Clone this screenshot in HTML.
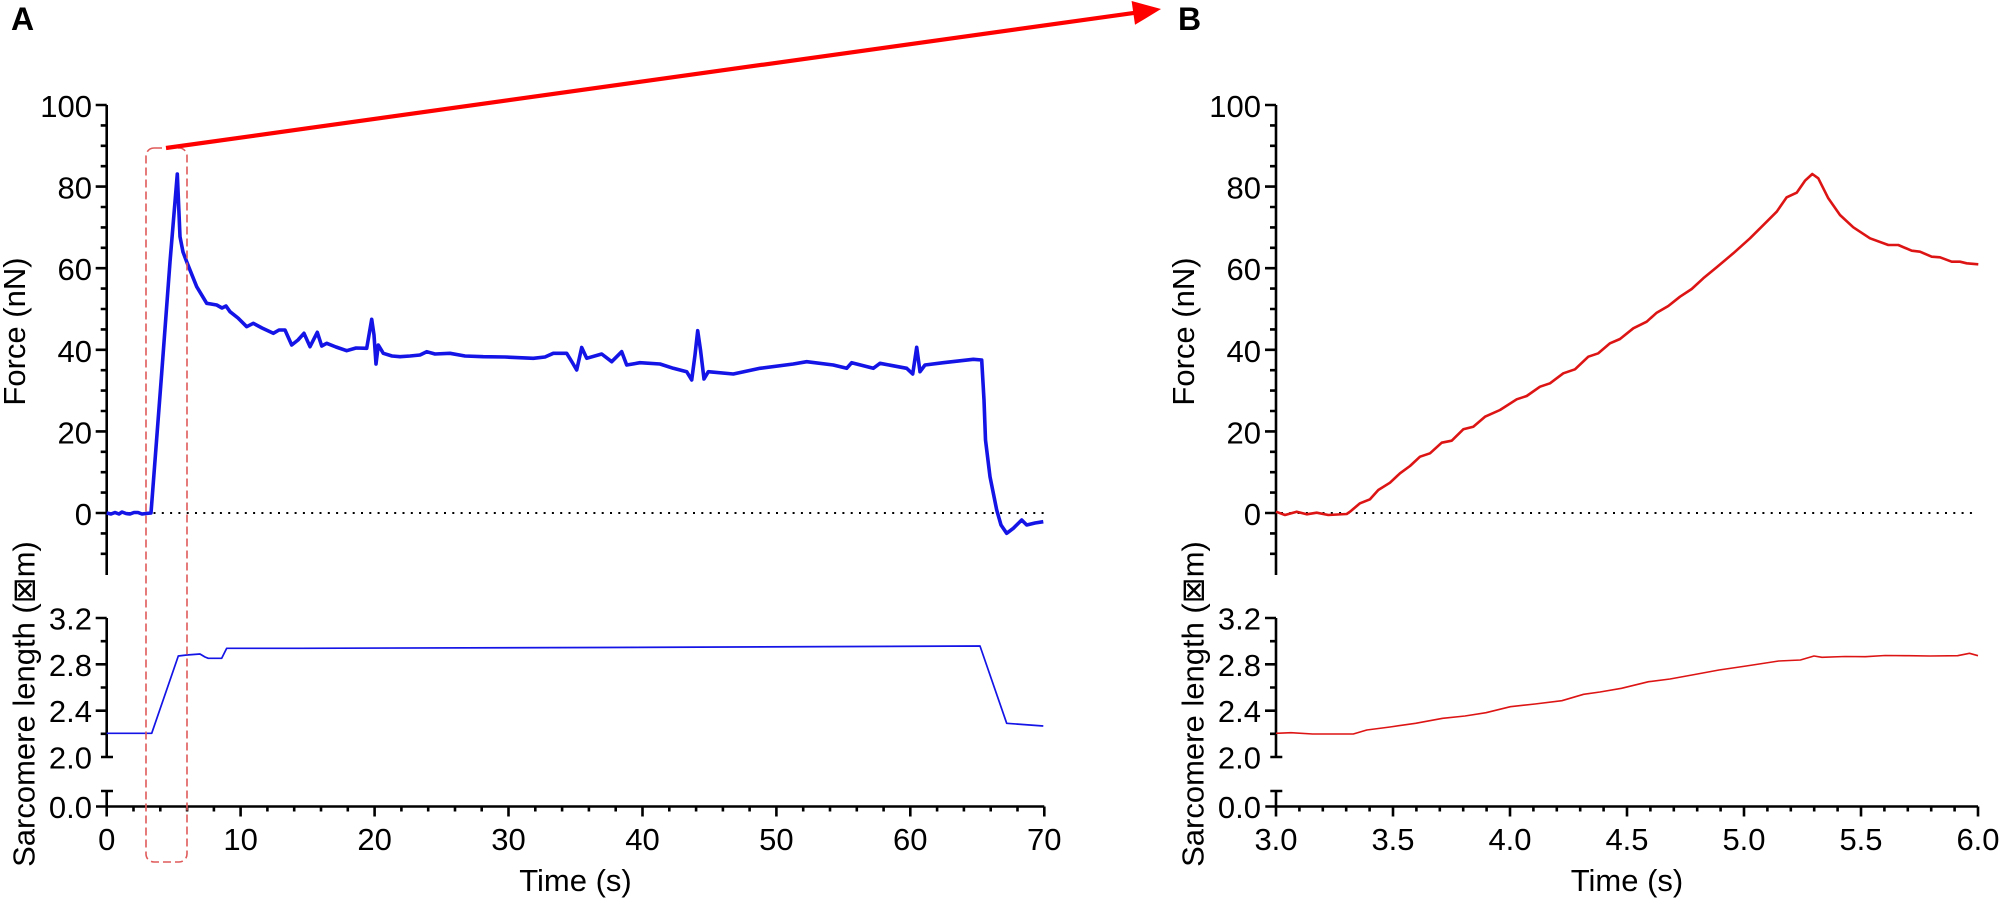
<!DOCTYPE html>
<html><head><meta charset="utf-8"><style>
html,body{margin:0;padding:0;background:#fff;}
svg{display:block;}
text{font-family:"Liberation Sans","DejaVu Sans",sans-serif;fill:#000;}
</style></head><body>
<svg width="2000" height="901" viewBox="0 0 2000 901" xmlns="http://www.w3.org/2000/svg">
<rect width="2000" height="901" fill="#fff"/>

<!-- Panel labels -->
<text x="11" y="30" font-size="32" font-weight="bold">A</text>
<text x="1178" y="30" font-size="32" font-weight="bold">B</text>

<!-- ============ LEFT PANEL AXES ============ -->
<g stroke="#000" stroke-width="2.6" fill="none">
  <path d="M106.7 105 V575"/>
  <path d="M106.7 513 h-11 M106.7 431.4 h-11 M106.7 349.8 h-11 M106.7 268.2 h-11 M106.7 186.6 h-11 M106.7 105 h-11"/>
  <path d="M106.7 492.6 h-6 M106.7 472.2 h-6 M106.7 451.8 h-6 M106.7 411 h-6 M106.7 390.6 h-6 M106.7 370.2 h-6 M106.7 329.4 h-6 M106.7 309 h-6 M106.7 288.6 h-6 M106.7 247.8 h-6 M106.7 227.4 h-6 M106.7 207 h-6 M106.7 166.2 h-6 M106.7 145.8 h-6 M106.7 125.4 h-6 M106.7 533.4 h-6 M106.7 553.8 h-6"/>
  <path d="M106.7 618 V757"/>
  <path d="M106.7 618 h-11 M106.7 664.3 h-11 M106.7 710.7 h-11 M101 757 h12"/>
  <path d="M106.7 641.2 h-6 M106.7 687.5 h-6 M106.7 733.8 h-6"/>
  <path d="M106.7 791 V806.5 M101 791 h12"/>
  <path d="M96 806.5 H1044.3"/>
  <path d="M106.7 806.5 v10 M240.6 806.5 v10 M374.6 806.5 v10 M508.5 806.5 v10 M642.5 806.5 v10 M776.4 806.5 v10 M910.3 806.5 v10 M1044.3 806.5 v10"/>
  <path d="M133.5 806.5 v5 M160.3 806.5 v5 M187.1 806.5 v5 M213.9 806.5 v5 M267.4 806.5 v5 M294.2 806.5 v5 M321 806.5 v5 M347.8 806.5 v5 M401.4 806.5 v5 M428.2 806.5 v5 M455 806.5 v5 M481.7 806.5 v5 M535.3 806.5 v5 M562.1 806.5 v5 M588.9 806.5 v5 M615.7 806.5 v5 M669.3 806.5 v5 M696.1 806.5 v5 M722.9 806.5 v5 M749.6 806.5 v5 M803.2 806.5 v5 M830 806.5 v5 M856.8 806.5 v5 M883.6 806.5 v5 M937.1 806.5 v5 M963.9 806.5 v5 M990.7 806.5 v5 M1017.5 806.5 v5"/>
</g>
<path d="M112 513 H1044" stroke="#000" stroke-width="2" stroke-dasharray="2 6.3" fill="none"/>

<g font-size="31" text-anchor="end">
  <text x="92" y="117">100</text>
  <text x="92" y="198.6">80</text>
  <text x="92" y="280.2">60</text>
  <text x="92" y="361.8">40</text>
  <text x="92" y="443.4">20</text>
  <text x="92" y="525">0</text>
  <text x="92" y="629.5">3.2</text>
  <text x="92" y="675.8">2.8</text>
  <text x="92" y="722.2">2.4</text>
  <text x="92" y="768.5">2.0</text>
  <text x="92" y="818">0.0</text>
</g>
<g font-size="31" text-anchor="middle">
  <text x="106.7" y="850">0</text>
  <text x="240.6" y="850">10</text>
  <text x="374.6" y="850">20</text>
  <text x="508.5" y="850">30</text>
  <text x="642.5" y="850">40</text>
  <text x="776.4" y="850">50</text>
  <text x="910.3" y="850">60</text>
  <text x="1044.3" y="850">70</text>
  <text x="575.5" y="891">Time (s)</text>
</g>
<text font-size="31" text-anchor="middle" transform="translate(25,331.5) rotate(-90)">Force (nN)</text>
<text font-size="31" text-anchor="middle" transform="translate(34.5,704) rotate(-90)">Sarcomere length (⊠m)</text>

<!-- ============ RIGHT PANEL AXES ============ -->
<g stroke="#000" stroke-width="2.6" fill="none">
  <path d="M1276 105 V575"/>
  <path d="M1276 513 h-11 M1276 431.4 h-11 M1276 349.8 h-11 M1276 268.2 h-11 M1276 186.6 h-11 M1276 105 h-11"/>
  <path d="M1276 492.6 h-6 M1276 472.2 h-6 M1276 451.8 h-6 M1276 411 h-6 M1276 390.6 h-6 M1276 370.2 h-6 M1276 329.4 h-6 M1276 309 h-6 M1276 288.6 h-6 M1276 247.8 h-6 M1276 227.4 h-6 M1276 207 h-6 M1276 166.2 h-6 M1276 145.8 h-6 M1276 125.4 h-6 M1276 533.4 h-6 M1276 553.8 h-6"/>
  <path d="M1276 618 V757"/>
  <path d="M1276 618 h-11 M1276 664.3 h-11 M1276 710.7 h-11 M1270.3 757 h12"/>
  <path d="M1276 641.2 h-6 M1276 687.5 h-6 M1276 733.8 h-6"/>
  <path d="M1276 791 V806.5 M1270.3 791 h12"/>
  <path d="M1265.3 806.5 H1978"/>
  <path d="M1276 806.5 v10 M1393 806.5 v10 M1510 806.5 v10 M1627 806.5 v10 M1744 806.5 v10 M1861 806.5 v10 M1978 806.5 v10"/>
  <path d="M1299.4 806.5 v5 M1322.8 806.5 v5 M1346.2 806.5 v5 M1369.6 806.5 v5 M1416.4 806.5 v5 M1439.8 806.5 v5 M1463.2 806.5 v5 M1486.6 806.5 v5 M1533.4 806.5 v5 M1556.8 806.5 v5 M1580.2 806.5 v5 M1603.6 806.5 v5 M1650.4 806.5 v5 M1673.8 806.5 v5 M1697.2 806.5 v5 M1720.6 806.5 v5 M1767.4 806.5 v5 M1790.8 806.5 v5 M1814.2 806.5 v5 M1837.6 806.5 v5 M1884.4 806.5 v5 M1907.8 806.5 v5 M1931.2 806.5 v5 M1954.6 806.5 v5"/>
</g>
<path d="M1281 513 H1978" stroke="#000" stroke-width="2" stroke-dasharray="2 6.3" fill="none"/>

<g font-size="31" text-anchor="end">
  <text x="1261" y="117">100</text>
  <text x="1261" y="198.6">80</text>
  <text x="1261" y="280.2">60</text>
  <text x="1261" y="361.8">40</text>
  <text x="1261" y="443.4">20</text>
  <text x="1261" y="525">0</text>
  <text x="1261" y="629.5">3.2</text>
  <text x="1261" y="675.8">2.8</text>
  <text x="1261" y="722.2">2.4</text>
  <text x="1261" y="768.5">2.0</text>
  <text x="1261" y="818">0.0</text>
</g>
<g font-size="31" text-anchor="middle">
  <text x="1276" y="850">3.0</text>
  <text x="1393" y="850">3.5</text>
  <text x="1510" y="850">4.0</text>
  <text x="1627" y="850">4.5</text>
  <text x="1744" y="850">5.0</text>
  <text x="1861" y="850">5.5</text>
  <text x="1978" y="850">6.0</text>
  <text x="1627" y="891">Time (s)</text>
</g>
<text font-size="31" text-anchor="middle" transform="translate(1194,331.5) rotate(-90)">Force (nN)</text>
<text font-size="31" text-anchor="middle" transform="translate(1203.5,704) rotate(-90)">Sarcomere length (⊠m)</text>

<!-- ============ LEFT DATA ============ -->
<polyline fill="none" stroke="#1414e6" stroke-width="3.6" stroke-linejoin="round" points="106.7,513 111,514 115,512.5 119,514 122,512 126,513.5 130,514 134,512.5 138,512.5 142,514 146,513.5 151,513 161.7,373 170,262 177.3,174 180,236.7 183,252 187.3,263.3 196.7,286.7 206.7,303.3 211,304 216.7,305 222,308 226,306 230,311.7 238,318 246.7,326.7 253.3,323.3 262,328 273.3,333.3 279,330 285,330 291.7,345 298,340 304,333.3 310,346.7 317.3,332.3 321.7,346 326.7,343.3 336,347 346.7,350.7 356,348 366.7,348.3 371.7,319.3 374,335 376,364 378.3,345 383.3,353.3 392,356 400,356.7 410,356 420,355 426.7,351.7 435,354 450,353.3 465,356 483.3,356.7 505,357 533.3,358.3 545,357 553.3,353.3 566.7,353.3 572,362 576.7,370 581.7,347.5 586.7,358.3 601.7,354 611.7,361.7 621.7,351.7 626.7,365 640,362.7 660,364 673.3,368.3 686.7,371.7 691.7,380 695,355 697.7,330.7 700.5,350 704,379 708.3,371.7 733.3,374 760,368.3 793.3,364 806.7,361.7 833.3,365 846.7,368.3 851.7,362.7 873.3,368.3 880,363.3 906.7,368.3 912.7,374 916.7,347.3 920,371.7 925,365 943.3,362.7 973.3,359.3 981.7,360 984,400 985.5,440 990,476.7 996.7,510 1001,525 1006.7,533.3 1013.3,528.3 1021.7,520 1026.7,525 1035,523 1043.3,521.7"/>
<polyline fill="none" stroke="#1414e6" stroke-width="1.7" stroke-linejoin="round" points="106.7,733.3 151.7,733.3 178.3,656 186.7,655 200,654 205,657 208.3,658.3 221.7,658.3 226.7,648.3 300,648.3 600,647.5 980,646 1006.7,723.3 1043.3,726"/>

<rect x="146" y="148" width="41" height="714" rx="8" ry="8" fill="none" stroke="#e05a5a" stroke-width="1.6" stroke-dasharray="8 4"/>

<line x1="166" y1="148" x2="1134" y2="12.9" stroke="#ff0000" stroke-width="4.2"/>
<polygon points="1161,9 1131.6,1 1135,24.8" fill="#ff0000"/>

<!-- ============ RIGHT DATA ============ -->
<polyline fill="none" stroke="#dd1414" stroke-width="2.6" stroke-linejoin="round" points="1276,511.7 1285,515 1296.7,511.7 1306.7,514.3 1316.7,512.7 1328.3,515 1346.7,514 1350,511.7 1360,503.3 1370,499.3 1378.3,490 1390,482.7 1400,473.3 1410,466 1420,456.7 1430,453.3 1441.7,442.7 1451.7,440.7 1463.3,429.3 1473.3,426.7 1485,416.7 1500,410 1516.7,399.3 1526.7,396 1540,386.7 1550,383.3 1563.3,373.3 1575,369.3 1588.3,356.7 1598.3,353.3 1610,343.3 1620,339 1633.3,328.3 1646.7,321.7 1656.7,312.7 1668.3,306 1680,296.7 1691.7,289 1703.3,278.3 1716.7,267.3 1733.3,253.3 1750,238.3 1766.7,221.7 1776.7,211.7 1786.7,197.3 1796.7,192.7 1805,180.7 1812.3,174 1818.3,178.3 1828.3,198.3 1840,215 1853.3,227.3 1870,238.3 1888.3,245 1898.3,245 1911.7,250.7 1920,251.7 1931.7,256.7 1940,257.3 1951.7,261.7 1960,261.7 1966.7,263.3 1978.3,264.3"/>
<polyline fill="none" stroke="#dd1414" stroke-width="1.6" stroke-linejoin="round" points="1276,733.3 1291,732.7 1312.6,734 1353.3,734 1366.8,730 1390,727 1415.6,723.3 1442.7,718.3 1465,716 1486,712.7 1510.4,706.7 1535,704 1561.9,700.7 1583.6,694.3 1600,692 1621.5,688.3 1648.6,681.7 1670,679 1692,675 1719,670 1746.2,666 1778.7,661 1800.4,660 1814,656 1822,657.3 1845,656.5 1865.4,656.7 1885,655.5 1908.8,655.7 1930,656 1957.6,655.7 1969.5,653.3 1978,655.7"/>
</svg>
</body></html>
